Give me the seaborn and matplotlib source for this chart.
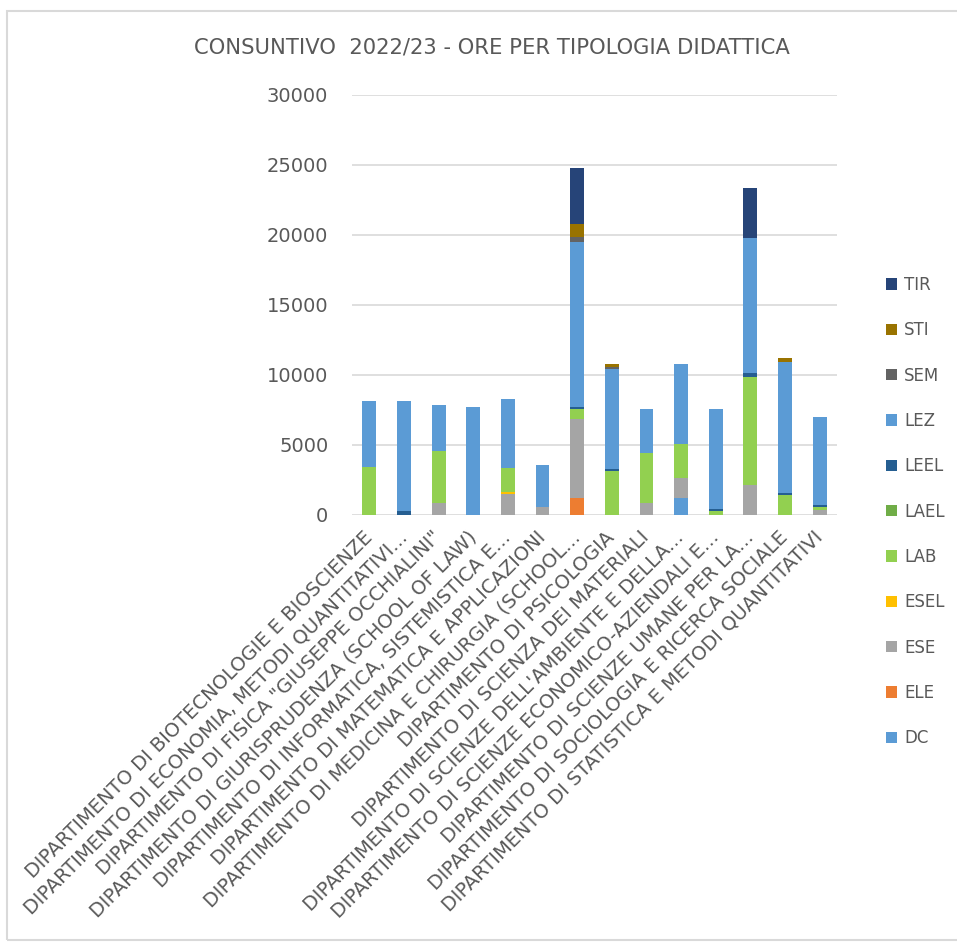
import numpy as np
import pandas as pd
import matplotlib
matplotlib.use('Agg')
import matplotlib.pyplot as plt
import seaborn as sns
from matplotlib.patches import Patch, Rectangle

# Departments (x categories)
departments = [
    'DIPARTIMENTO DI BIOTECNOLOGIE E BIOSCIENZE',
    'DIPARTIMENTO DI ECONOMIA, METODI QUANTITATIVI...',
    'DIPARTIMENTO DI FISICA "GIUSEPPE OCCHIALINI"',
    'DIPARTIMENTO DI GIURISPRUDENZA (SCHOOL OF LAW)',
    'DIPARTIMENTO DI INFORMATICA, SISTEMISTICA E...',
    'DIPARTIMENTO DI MATEMATICA E APPLICAZIONI',
    'DIPARTIMENTO DI MEDICINA E CHIRURGIA (SCHOOL...',
    'DIPARTIMENTO DI PSICOLOGIA',
    'DIPARTIMENTO DI SCIENZA DEI MATERIALI',
    "DIPARTIMENTO DI SCIENZE DELL'AMBIENTE E DELLA...",
    'DIPARTIMENTO DI SCIENZE ECONOMICO-AZIENDALI E...',
    'DIPARTIMENTO DI SCIENZE UMANE PER LA...',
    'DIPARTIMENTO DI SOCIOLOGIA E RICERCA SOCIALE',
    'DIPARTIMENTO DI STATISTICA E METODI QUANTITATIVI',
]

# Hours per teaching type
DC   = [0, 0, 0, 0, 0, 0, 0, 0, 0, 1190, 0, 0, 0, 0]
ELE  = [0, 0, 0, 0, 0, 0, 1190, 0, 0, 0, 0, 0, 0, 0]
ESE  = [0, 0, 830, 0, 1480, 550, 5640, 0, 830, 1480, 0, 2140, 0, 360]
ESEL = [0, 0, 0, 0, 170, 0, 0, 0, 0, 0, 0, 0, 0, 0]
LAB  = [3450, 0, 3740, 0, 1670, 0, 740, 3140, 3620, 2380, 290, 7740, 1430, 190]
LAEL = [0, 0, 0, 0, 0, 0, 0, 0, 0, 0, 0, 0, 0, 0]
LEEL = [0, 280, 0, 0, 0, 0, 170, 140, 0, 0, 170, 290, 170, 140]
LEZ  = [4710, 7880, 3290, 7740, 4990, 3020, 11790, 7140, 3120, 5710, 7110, 9600, 9310, 6330]
SEM  = [0, 0, 0, 0, 0, 0, 310, 150, 0, 0, 0, 0, 0, 0]
STI  = [0, 0, 0, 0, 0, 0, 950, 180, 0, 0, 0, 0, 290, 0]
TIR  = [0, 0, 0, 0, 0, 0, 3980, 0, 0, 0, 0, 3570, 0, 0]

series_names = ['DC', 'ELE', 'ESE', 'ESEL', 'LAB', 'LAEL', 'LEEL', 'LEZ', 'SEM', 'STI', 'TIR']
series_values = [DC, ELE, ESE, ESEL, LAB, LAEL, LEEL, LEZ, SEM, STI, TIR]
colors = ['#5B9BD5', '#ED7D31', '#A5A5A5', '#FFC000', '#92D050', '#70AD47',
          '#255E91', '#5B9BD5', '#636363', '#997300', '#264478']

df = pd.DataFrame(dict(zip(series_names, series_values)), index=departments)
cum = df.cumsum(axis=1)

text_color = '#595959'
fig = plt.figure(figsize=(9.57, 9.48), dpi=100)
ax = fig.add_axes([0.3678, 0.4568, 0.8746 - 0.3678, 0.8998 - 0.4568])

# stacked bars: draw cumulative totals from the top layer down
for name, col in reversed(list(zip(series_names, colors))):
    sns.barplot(x=list(range(len(departments))), y=cum[name].values, color=col,
                width=0.4, ax=ax, saturation=1, zorder=3)

ax.set_ylim(0, 30000)
ax.set_yticks(np.arange(0, 30001, 5000))
ax.set_xlim(-0.5, len(departments) - 0.5)
ax.grid(axis='y', color='#d9d9d9', linewidth=1.2, zorder=0)
ax.set_axisbelow(True)
for s in ax.spines.values():
    s.set_visible(False)
ax.tick_params(axis='y', length=0, pad=17, labelsize=14, labelcolor=text_color)
ax.tick_params(axis='x', length=0, pad=14, labelsize=14, labelcolor=text_color)
ax.set_xticks(range(len(departments)))
ax.set_xticklabels(departments, rotation=45, ha='right', va='center',
                   rotation_mode='anchor')
ax.set_xlabel('')
ax.set_ylabel('')

fig.text(0.514, 0.950, 'CONSUNTIVO  2022/23 - ORE PER TIPOLOGIA DIDATTICA',
         ha='center', va='center', fontsize=15.2, color=text_color)

handles = [Patch(facecolor=c) for c in reversed(colors)]
labels = list(reversed(series_names))
fig.legend(handles, labels, loc='center left', bbox_to_anchor=(0.9175, 0.4604),
           frameon=False, fontsize=12, labelcolor=text_color, borderpad=0,
           handlelength=0.65, handleheight=0.65, handletextpad=0.4,
           labelspacing=1.64)

# chart border
fig.patches.append(Rectangle((7 / 957, 8 / 948), 1.0, 1 - 19 / 948,
                             transform=fig.transFigure, fill=False,
                             edgecolor='#d9d9d9', linewidth=1.5))

fig.savefig('out.png', dpi=100)
